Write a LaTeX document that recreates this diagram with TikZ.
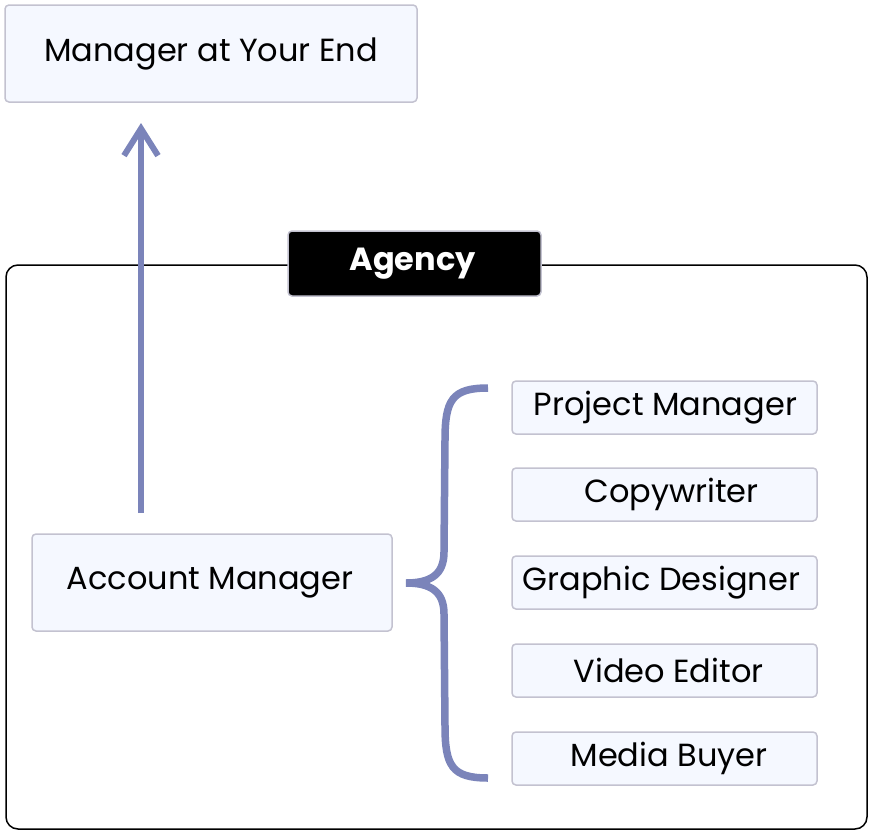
\documentclass[tikz,border=0pt]{standalone}
\usepackage{fontspec}
\setmainfont{Poppins}
\usetikzlibrary{arrows.meta}
\definecolor{boxfill}{HTML}{F5F8FF}
\definecolor{boxline}{HTML}{C3C2D0}
\definecolor{linkblue}{HTML}{7B84BA}
\tikzset{
  card/.style={draw=boxline, fill=boxfill, line width=1.5pt, rounded corners=4pt, inner sep=0pt, text=black, font=\fontsize{32}{36}\selectfont},
  smallcard/.style={card, minimum width=305pt, minimum height=53pt},
  link/.style={draw=linkblue, line width=6pt},
}
\begin{document}
\begin{tikzpicture}[x=1pt,y=-1pt]
\useasboundingbox (0,0) rectangle (870,830);
% container
\draw[line width=1.5pt, rounded corners=12pt] (6,265) rectangle (867,829);
\node[draw=boxline, fill=black, line width=1.5pt, rounded corners=4pt, minimum width=253pt, minimum height=65pt, inner sep=0pt, text=white, font=\fontsize{32}{36}\selectfont\bfseries] (agency) at (414.5,263.5) {Agency\hspace*{4pt}};
% top box
\node[card, minimum width=412pt, minimum height=97pt] (mgr) at (211,53.5) {Manager at Your End};
\node[card, minimum width=360pt, minimum height=97pt] (acc) at (212,582.5) {Account Manager\hspace*{4pt}};
\coordinate (arrowstart) at (141,513);
\coordinate (arrowend) at (141,123);
\draw[link, -{Straight Barb[length=27pt, width=34pt, line width=6pt]}] (arrowstart) -- (arrowend);
% right boxes
\node[smallcard] (pm) at (664.5,407.5) {\hspace*{2pt}Project Manager};
\node[smallcard] (cw) at (664.5,494.5) {\hspace*{14pt}Copywriter};
\node[smallcard] (gd) at (664.5,582.5) {Graphic Designer\hspace*{6pt}};
\node[smallcard] (ve) at (664.5,670.5) {\hspace*{8pt}Video Editor};
\node[smallcard] (mb) at (664.5,758.5) {\hspace*{9pt}Media Buyer};
% brace
\coordinate (btop) at (488,388);
\coordinate (btip) at (406,583);
\coordinate (bbot) at (488,778);
\draw[link, line width=7.5pt, line cap=butt] (btop) .. controls (452,388) and (445,400) .. (445,440)
  -- (444,552) .. controls (444,575) and (430,583) .. (btip)
  .. controls (430,583) and (444,591) .. (444,614)
  -- (445,726) .. controls (445,766) and (452,778) .. (bbot);
\end{tikzpicture}
\end{document}
